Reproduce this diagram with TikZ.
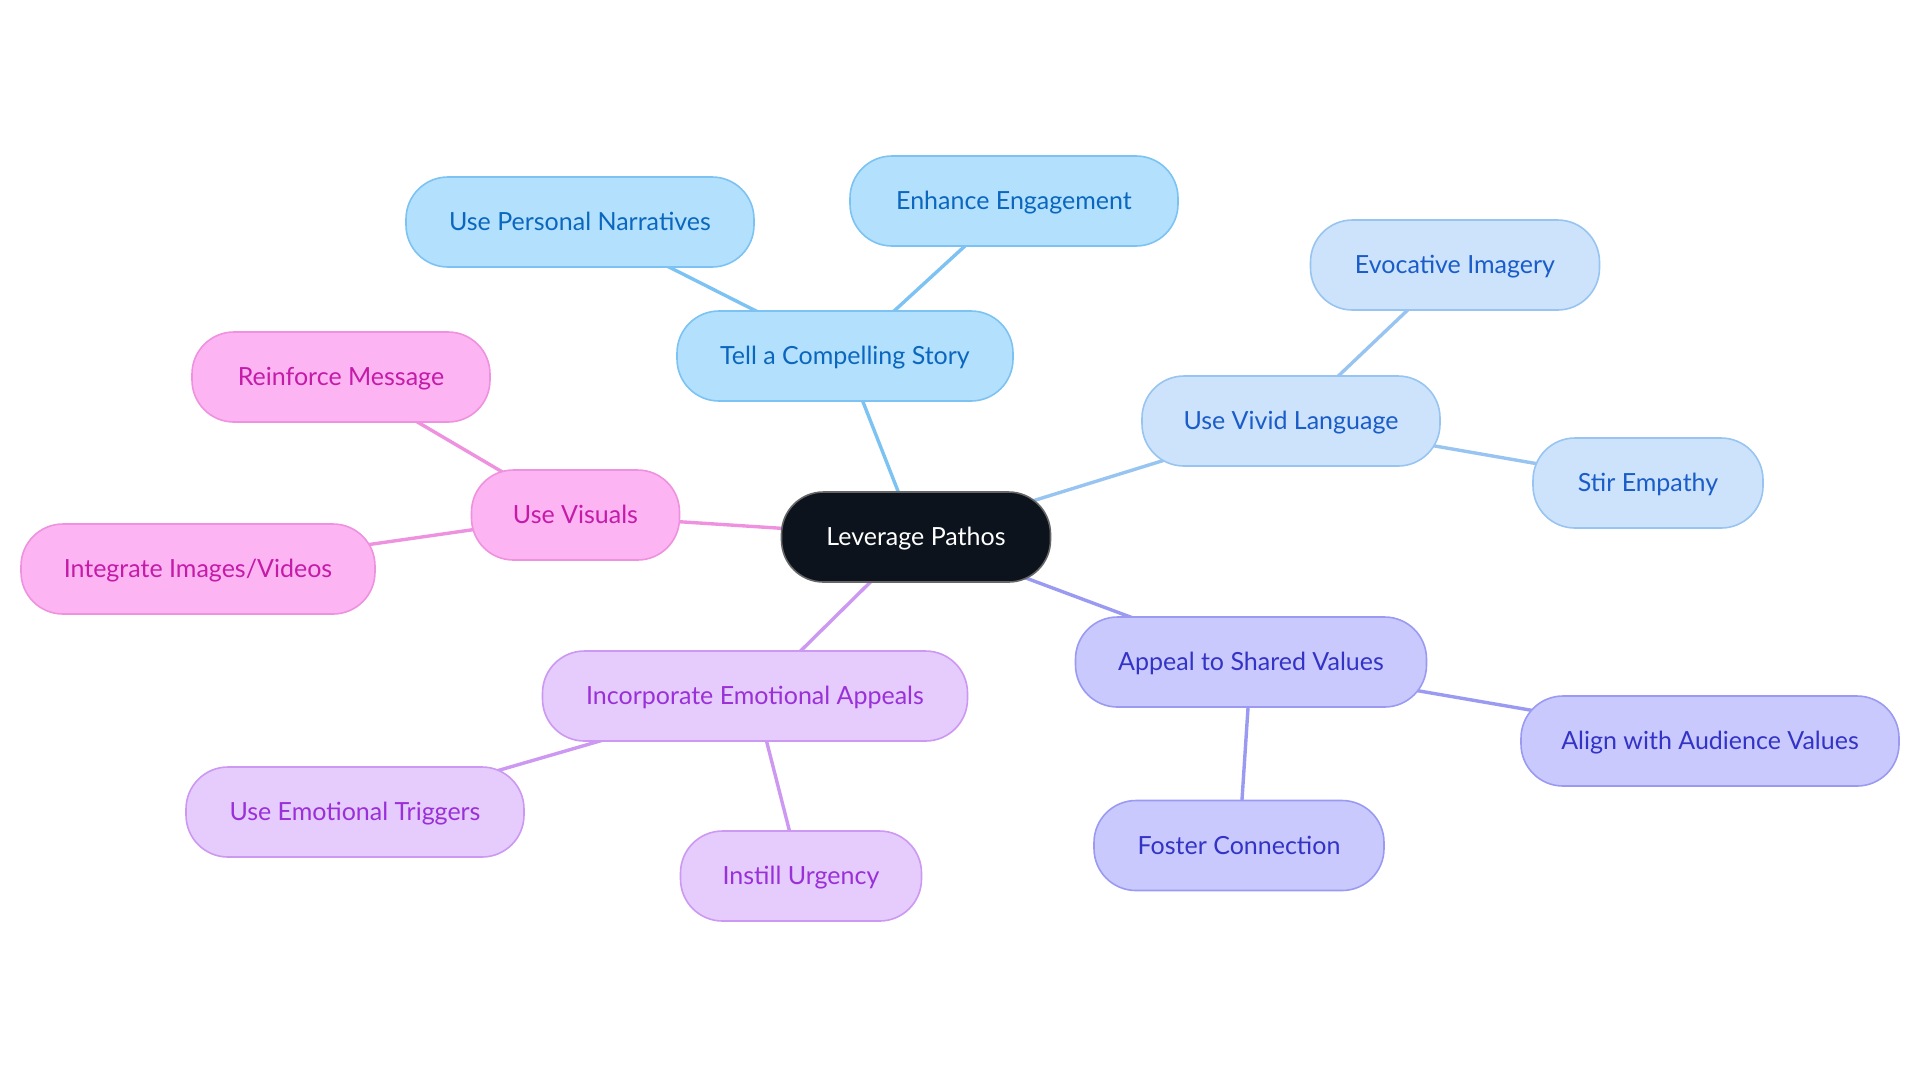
\documentclass[tikz,border=0pt]{standalone}
\usepackage{fontspec}
\setmainfont{Lato}
\usetikzlibrary{backgrounds}
\definecolor{bFill}{HTML}{B3E0FD}\definecolor{bLine}{HTML}{7CC3F3}\definecolor{bText}{HTML}{0B67BE}
\definecolor{lFill}{HTML}{CCE3FB}\definecolor{lLine}{HTML}{98C4F1}\definecolor{lText}{HTML}{1A5CC8}
\definecolor{vFill}{HTML}{C9C9FD}\definecolor{vLine}{HTML}{9A9AF3}\definecolor{vText}{HTML}{3333C6}
\definecolor{pFill}{HTML}{FDB4F2}\definecolor{pLine}{HTML}{EE92DF}\definecolor{pText}{HTML}{C41BA8}
\definecolor{mFill}{HTML}{E6CBFD}\definecolor{mLine}{HTML}{CC98F1}\definecolor{mText}{HTML}{9A30D8}
\definecolor{cFill}{HTML}{0D131C}
\tikzset{
  box/.style={rounded corners=21pt, minimum height=45pt, line width=0.8pt, inner sep=0pt, align=center, font=\fontsize{12.5}{15}\selectfont, text depth=0.5pt},
  bbox/.style={box, fill=bFill, draw=bLine, text=bText},
  lbox/.style={box, fill=lFill, draw=lLine, text=lText},
  vbox/.style={box, fill=vFill, draw=vLine, text=vText},
  pbox/.style={box, fill=pFill, draw=pLine, text=pText},
  mbox/.style={box, fill=mFill, draw=mLine, text=mText},
  cbox/.style={box, fill=cFill, draw=black!60, text=white},
  link/.style={line width=1.7pt},
}
\begin{document}
\begin{tikzpicture}[x=0.5pt,y=-0.5pt]
\useasboundingbox (0,0) rectangle (1920,1083);
\node[cbox, minimum width=134.5pt] (c) at (916,537) {Leverage Pathos};
\node[bbox, minimum width=168pt] (tell) at (845,356) {Tell a Compelling Story};
\node[bbox, minimum width=174pt] (upn) at (580,222) {Use Personal Narratives};
\node[bbox, minimum width=164pt] (ee) at (1014,201) {Enhance Engagement};
\node[lbox, minimum width=149pt] (uvl) at (1291,421) {Use Vivid Language};
\node[lbox, minimum width=144.5pt] (ei) at (1455,265) {Evocative Imagery};
\node[lbox, minimum width=115pt] (se) at (1648,483) {Stir Empathy};
\node[pbox, minimum width=104pt] (uv) at (575.5,515) {Use Visuals};
\node[pbox, minimum width=149pt] (rm) at (341,377) {Reinforce Message};
\node[pbox, minimum width=177pt] (iiv) at (198,569) {Integrate Images/Videos};
\node[mbox, minimum width=212.5pt] (iea) at (755,696) {Incorporate Emotional Appeals};
\node[mbox, minimum width=169pt] (uet) at (355,812) {Use Emotional Triggers};
\node[mbox, minimum width=120.5pt] (iu) at (801,876) {Instill Urgency};
\node[vbox, minimum width=175.5pt] (asv) at (1251,662) {Appeal to Shared Values};
\node[vbox, minimum width=189pt] (aav) at (1710,741) {Align with Audience Values};
\node[vbox, minimum width=145pt] (fc) at (1239,845.5) {Foster Connection};
\begin{scope}[on background layer]
\draw[link, draw=bLine] (c.center) -- (tell.center);
\draw[link, draw=bLine] (tell.center) -- (upn.center);
\draw[link, draw=bLine] (tell.center) -- (ee.center);
\draw[link, draw=lLine] (c.center) -- (uvl.center);
\draw[link, draw=lLine] (uvl.center) -- (ei.center);
\draw[link, draw=lLine] (uvl.center) -- (se.center);
\draw[link, draw=pLine] (c.center) -- (uv.center);
\draw[link, draw=pLine] (uv.center) -- (rm.center);
\draw[link, draw=pLine] (uv.center) -- (iiv.center);
\draw[link, draw=mLine] (c.center) -- (iea.center);
\draw[link, draw=mLine] (iea.center) -- (uet.center);
\draw[link, draw=mLine] (iea.center) -- (iu.center);
\draw[link, draw=vLine] (c.center) -- (asv.center);
\draw[link, draw=vLine] (asv.center) -- (aav.center);
\draw[link, draw=vLine] (asv.center) -- (fc.center);
\end{scope}
\end{tikzpicture}
\end{document}
